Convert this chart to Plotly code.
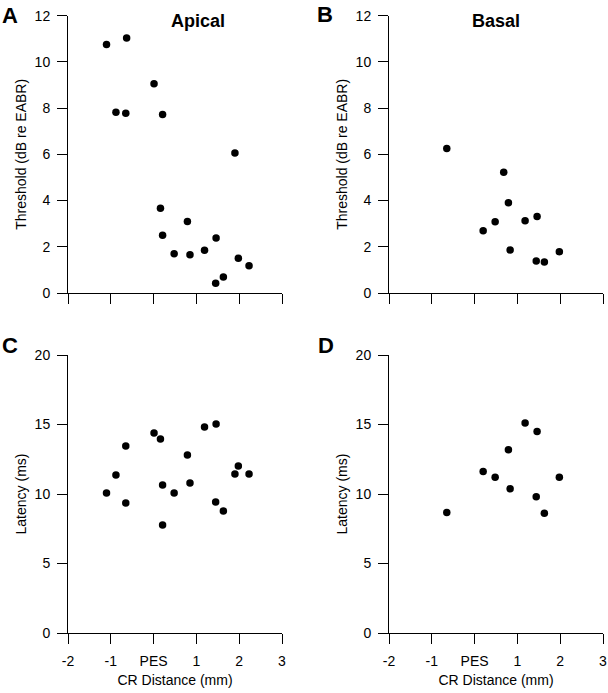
import plotly.graph_objects as go

# ---- Data ----
apical_thr_x = [-1.10, -0.63, -0.88, -0.65, 0.01, 0.21, 1.90, 0.16, 0.21, 0.79, 0.48, 0.85, 1.19, 1.46, 1.98, 2.23, 1.45, 1.63]
apical_thr_y = [10.75, 11.04, 7.82, 7.78, 9.06, 7.72, 6.06, 3.67, 2.50, 3.09, 1.70, 1.66, 1.85, 2.38, 1.50, 1.18, 0.42, 0.69]

basal_thr_x = [-0.65, 0.68, 0.79, 0.20, 0.48, 1.18, 1.46, 0.83, 1.44, 1.63, 1.98]
basal_thr_y = [6.25, 5.23, 3.91, 2.69, 3.08, 3.13, 3.31, 1.86, 1.38, 1.34, 1.79]

apical_lat_x = [-1.10, -0.88, -0.65, -0.65, 0.01, 0.16, 0.21, 0.21, 0.48, 0.79, 0.85, 1.19, 1.46, 1.45, 1.63, 1.90, 1.98, 2.23]
apical_lat_y = [10.07, 11.36, 13.45, 9.35, 14.39, 13.96, 10.65, 7.77, 10.07, 12.80, 10.79, 14.82, 15.04, 9.42, 8.78, 11.44, 12.01, 11.44]

basal_lat_x = [-0.65, 1.18, 1.46, 0.79, 0.20, 0.48, 1.98, 0.83, 1.44, 1.63]
basal_lat_y = [8.67, 15.10, 14.50, 13.18, 11.62, 11.21, 11.21, 10.37, 9.80, 8.62]

x_tickvals = [-2, -1, 0, 1, 2, 3]
x_ticktext = ["-2", "-1", "PES", "1", "2", "3"]
thr_ticks = [0, 2, 4, 6, 8, 10, 12]
lat_ticks = [0, 5, 10, 15, 20]

W, H = 608, 693
FONT = "Liberation Sans, Arial, sans-serif"

def px_x(a, b):
    return [a / W, b / W]

def px_y(top, bottom):
    return [1 - bottom / H, 1 - top / H]

fig = go.Figure()
marker = dict(color="black", size=7.5)

fig.add_trace(go.Scatter(x=apical_thr_x, y=apical_thr_y, mode="markers", marker=marker, xaxis="x", yaxis="y"))
fig.add_trace(go.Scatter(x=basal_thr_x, y=basal_thr_y, mode="markers", marker=marker, xaxis="x2", yaxis="y2"))
fig.add_trace(go.Scatter(x=apical_lat_x, y=apical_lat_y, mode="markers", marker=marker, xaxis="x3", yaxis="y3"))
fig.add_trace(go.Scatter(x=basal_lat_x, y=basal_lat_y, mode="markers", marker=marker, xaxis="x4", yaxis="y4"))

common = dict(showgrid=False, zeroline=False, showline=True, linecolor="black", linewidth=1,
              ticks="outside", ticklen=10, tickcolor="black", tickwidth=1, automargin=False,
              tickfont=dict(family=FONT, size=14, color="black"))

left = px_x(68, 282)
right = px_x(389, 603)
top = px_y(15.7, 293)
bot = px_y(355, 633)

def xax(domain, anchor, labels):
    d = dict(common, domain=domain, anchor=anchor, range=[-2, 3], tickmode="array",
             tickvals=x_tickvals, ticktext=x_ticktext, showticklabels=labels, ticklabelstandoff=5)
    if labels:
        d["title"] = dict(text="CR Distance (mm)", font=dict(family=FONT, size=14, color="black"), standoff=7)
    return d

def yax(domain, anchor, ticks, rng, title):
    return dict(common, domain=domain, anchor=anchor, range=rng, tickmode="array", tickvals=ticks,
                ticklabelstandoff=4,
                title=dict(text=title, font=dict(family=FONT, size=14, color="black"), standoff=4))

fig.update_layout(
    width=W, height=H, margin=dict(l=0, r=0, t=0, b=0, autoexpand=False),
    paper_bgcolor="white", plot_bgcolor="white", showlegend=False,
    xaxis=xax(left, "y", False),
    yaxis=yax(top, "x", thr_ticks, [0, 12], "Threshold (dB re EABR)"),
    xaxis2=xax(right, "y2", False),
    yaxis2=yax(top, "x2", thr_ticks, [0, 12], "Threshold (dB re EABR)"),
    xaxis3=xax(left, "y3", True),
    yaxis3=yax(bot, "x3", lat_ticks, [0, 20], "Latency (ms)"),
    xaxis4=xax(right, "y4", True),
    yaxis4=yax(bot, "x4", lat_ticks, [0, 20], "Latency (ms)"),
)

def ann(text, x, y, size, bold=True):
    fig.add_annotation(text=f"<b>{text}</b>" if bold else text, x=x / W, y=1 - y / H, xref="paper", yref="paper",
                       showarrow=False, xanchor="center", yanchor="middle",
                       font=dict(family=FONT, size=size, color="black"))

ann("A", 10, 15, 22)
ann("B", 325, 14, 22)
ann("C", 10, 345, 22)
ann("D", 326, 345, 22)
ann("Apical", 198, 21, 18)
ann("Basal", 496, 21, 18)

fig.write_html("out.html", config={"displayModeBar": False},
               post_script="document.body.style.margin='0';document.body.style.overflow='hidden';")
